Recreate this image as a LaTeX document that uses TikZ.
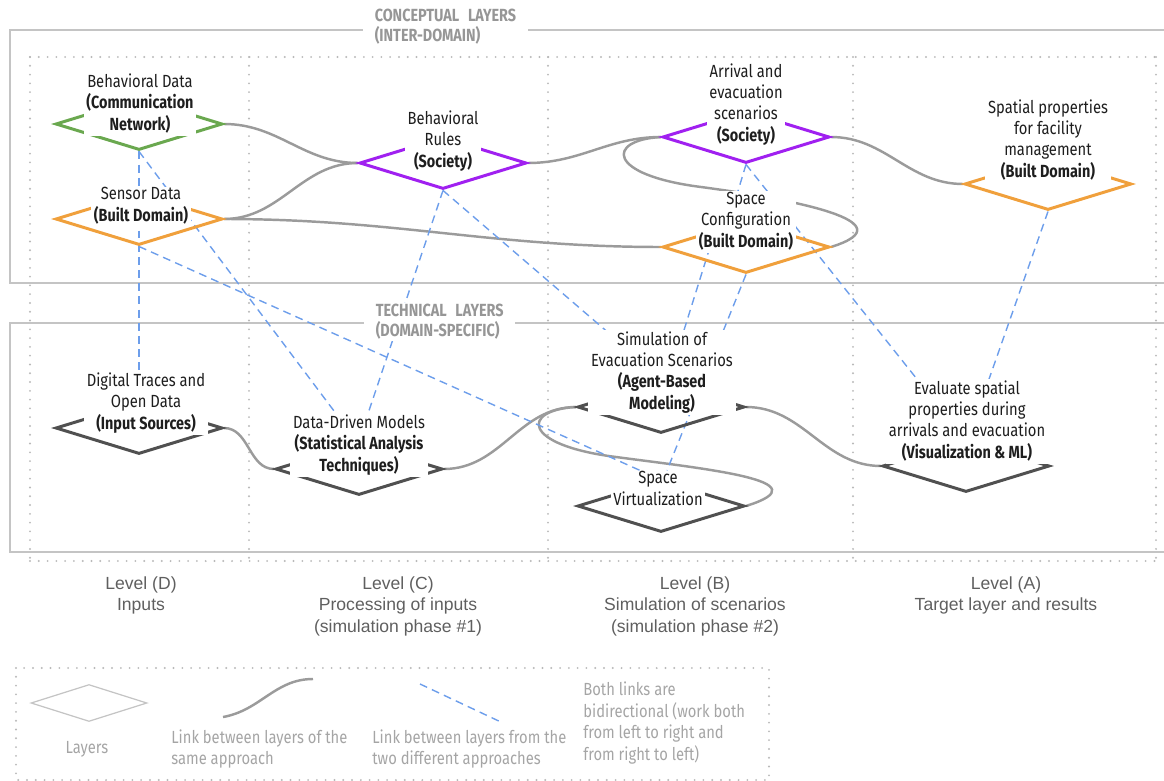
\documentclass[tikz,border=0pt]{standalone}
\usepackage{fontspec}
\setmainfont{Fira Sans}[FakeStretch=0.84,BoldFeatures={FakeStretch=0.82}]
\newfontfamily\levelfont{Liberation Sans}
\usetikzlibrary{positioning,calc,shapes.geometric}

\definecolor{boxgray}{RGB}{196,196,196}
\definecolor{dotgray}{RGB}{185,185,185}
\definecolor{titlegray}{RGB}{150,150,150}
\definecolor{linkgray}{RGB}{155,155,155}
\definecolor{crossblue}{RGB}{109,158,235}
\definecolor{socviolet}{RGB}{160,32,240}
\definecolor{builtorange}{RGB}{240,160,60}
\definecolor{commgreen}{RGB}{106,168,79}
\definecolor{techgray}{RGB}{80,80,80}
\definecolor{txtdark}{RGB}{30,30,30}
\definecolor{levelgray}{RGB}{95,95,95}
\definecolor{legendgray}{RGB}{165,165,165}

\pgfdeclarelayer{bg}
\pgfsetlayers{bg,main}

\tikzset{
  lyr/.style={draw, shape=diamond, minimum width=3.34cm, minimum height=1.04cm,
    inner sep=0pt, line width=1.7pt},
  lbl/.style={anchor=south, fill=white, align=center, inner xsep=1.5pt, inner ysep=0.5pt,
    text depth=2.5pt, text=txtdark, font=\fontsize{10}{12.2}\selectfont},
  same/.style={draw=linkgray, line width=1.4pt},
  cross/.style={draw=crossblue, line width=0.8pt, dash pattern=on 4.5pt off 3pt},
  dotline/.style={draw=dotgray, line width=1.2pt, line cap=round, dash pattern=on 0pt off 5pt},
  boxline/.style={draw=boxgray, line width=1.7pt},
  ttl/.style={anchor=west, fill=white, align=left, inner xsep=6.5pt, inner ysep=1pt,
    text=titlegray, font=\bfseries\fontsize{10}{11.5}\selectfont},
  lvl/.style={anchor=north, align=center, inner sep=0pt, text=levelgray,
    font=\levelfont\fontsize{10}{12.3}\selectfont},
  lgd/.style={anchor=west, align=left, inner sep=0pt, text=legendgray,
    font=\fontsize{10}{12.5}\selectfont}
}

\begin{document}
\begin{tikzpicture}[x=0.02cm,y=-0.02cm]
\useasboundingbox (0,0) rectangle (1164,781);

% CONCEPTUAL LAYERS

\node[lyr, draw=commgreen] (cD1) at (139,124) {};
\node[lbl] (cD1t) at ($(cD1)+(1,12)$) {Behavioral Data\\\textbf{(Communication}\\\textbf{Network)}};

\node[lyr, draw=builtorange] (cD2) at (139,219) {};
\node[lbl] (cD2t) at ($(cD2)+(2,8)$) {Sensor Data\\\textbf{(Built Domain)}};

\node[lyr, draw=socviolet] (cC1) at (443,163) {};
\node[lbl] (cC1t) at ($(cC1)+(0,10)$) {Behavioral\\Rules\\\textbf{(Society)}};

\node[lyr, draw=socviolet] (cB1) at (746,137) {};
\node[lbl] (cB1t) at ($(cB1)+(0,10)$) {Arrival and\\evacuation\\scenarios\\\textbf{(Society)}};

\node[lyr, draw=builtorange] (cB2) at (746,247) {};
\node[lbl] (cB2t) at ($(cB2)+(0,6)$) {Space\\Configuration\\\textbf{(Built Domain)}};

\node[lyr, draw=builtorange] (cA1) at (1048,184) {};
\node[lbl] (cA1t) at ($(cA1)+(0,-1)$) {Spatial properties\\for facility\\management\\\textbf{(Built Domain)}};

% TECHNICAL LAYERS

\node[lyr, draw=techgray] (tD1) at (139,428) {};
\node[lbl] (tD1t) at ($(tD1)+(7,7)$) {Digital Traces and\\Open Data\\\textbf{(Input Sources)}};

\node[lyr, draw=techgray] (tC1) at (359,469) {};
\node[lbl] (tC1t) at ($(tC1)+(0,8)$) {Data-Driven Models\\\textbf{(Statistical Analysis}\\\textbf{Techniques)}};

\node[lyr, draw=techgray] (tB1) at (661,407) {};
\node[lbl] (tB1t) at ($(tB1)+(1,8)$) {Simulation of\\Evacuation Scenarios\\\textbf{(Agent-Based}\\\textbf{Modeling)}};

\node[lyr, draw=techgray] (tB2) at (661,506) {};
\node[lbl] (tB2t) at ($(tB2)+(-3,5)$) {Space\\Virtualization};

\node[lyr, draw=techgray] (tA1) at (966,466) {};
\node[lbl] (tA1t) at ($(tA1)+(1,-2)$) {Evaluate spatial\\properties during\\arrivals and evacuation\\\textbf{(Visualization \& ML)}};

% frames and links

\begin{pgfonlayer}{bg}
\draw[boxline] (1164,30) -| (10,283) -- (1164,283);
\draw[boxline] (1164,323) -| (10,552) -- (1164,552);
\draw[dotline] (30,57) -- (1156,57);
\draw[dotline] (30,561) -- (1156,561);
\foreach \x in {30,249,548,853,1156}
  \draw[dotline] (\x,57) -- (\x,561);

% same approach
\draw[same] (cD1.east) to[out=0,in=180] (cC1.west);
\draw[same] (cD2.east) to[out=0,in=180] (cC1.west);
\draw[same] (cD2.east) to[out=0,in=180] (cB2.west);
\draw[same] (cC1.east) to[out=0,in=180] (cB1.west);
\draw[same] (cB1.east) to[out=0,in=180] (cA1.west);
\draw[same] (cB1.west) .. controls ($(cB1.west)+(-55,3)$) and ($(cB1.west)+(-55,38)$)
  .. ($(cB1.west)+(40,50)$) .. controls ($(cB1.west)+(130,62)$) and ($(cB2.east)+(80,-25)$) .. (cB2.east);

\draw[same] (tD1.east) to[out=0,in=180] (tC1.west);
\draw[same] (tC1.east) to[out=0,in=180] (tB1.west);
\draw[same] (tB1.east) to[out=0,in=180] (tA1.west);
\draw[same] (tB1.west) .. controls ($(tB1.west)+(-55,3)$) and ($(tB1.west)+(-55,38)$)
  .. ($(tB1.west)+(40,50)$) .. controls ($(tB1.west)+(130,62)$) and ($(tB2.east)+(80,-25)$) .. (tB2.east);

% different approaches
\draw[cross] (cD1.south) -- (cD1.south |- tD1t.north);
\draw[cross] (cD1.south) -- ($(tC1t.north)+(-23,0)$);
\draw[cross] (cD2.south) -- ($(tB2t.north)+(-18,0)$);
\draw[cross] (cC1.south) -- ($(tC1t.north)+(9,0)$);
\draw[cross] (cC1.south) -- ($(tB1t.north)+(-45,10)$);
\draw[cross] (cB1.south) -- ($(cB2t.north)+(-8,0)$);
\draw[cross] (cB1.south) -- ($(tA1t.north)+(-50,0)$);
\draw[cross] ($(cB2)+(-36,0)$) -- ($(tB1t.north)+(22,0)$);
\draw[cross] (cB2.south) -- ($(tB2t.north)+(9,0)$);
\draw[cross] (cA1.south) -- ($(tA1t.north)+(22,0)$);
\end{pgfonlayer}

\node[ttl] (ctitle) at (363,27) {CONCEPTUAL\hspace{3pt} LAYERS\\(INTER-DOMAIN)};
\node[ttl] (ttitle) at (364,322) {TECHNICAL\hspace{3pt} LAYERS\\(DOMAIN-SPECIFIC)};

% levels

\node[lvl] (lvD) at (141,576) {Level (D)\\Inputs};
\node[lvl] (lvC) at (398,576) {Level (C)\\Processing of inputs\\(simulation phase \#1)};
\node[lvl] (lvB) at (695,576) {Level (B)\\Simulation of scenarios\\(simulation phase \#2)};
\node[lvl] (lvA) at (1006,576) {Level (A)\\Target layer and results};

% legend

\draw[dotline] (16,668) rectangle (769,780);
\node[lyr, draw=boxgray, line width=0.7pt, minimum width=2.32cm, minimum height=0.74cm] (lgL) at (89,703) {};
\node[lgd, anchor=center] (lgLt) at (87,749) {Layers};
\coordinate (lgS1) at (223,717);
\coordinate (lgS2) at (313,679);
\draw[same] (lgS1) to[out=10,in=180] (lgS2);
\node[lgd] (lgSt) at (171,749) {Link between layers of the\\same approach};
\coordinate (lgX1) at (420,684);
\coordinate (lgX2) at (503,723);
\draw[cross] (lgX1) -- (lgX2);
\node[lgd] (lgXt) at (372,749) {Link between layers from the\\two different approaches};
\node[lgd] (lgBt) at (583,723) {Both links are\\bidirectional (work both\\from left to right and\\from right to left)};

\end{tikzpicture}
\end{document}
